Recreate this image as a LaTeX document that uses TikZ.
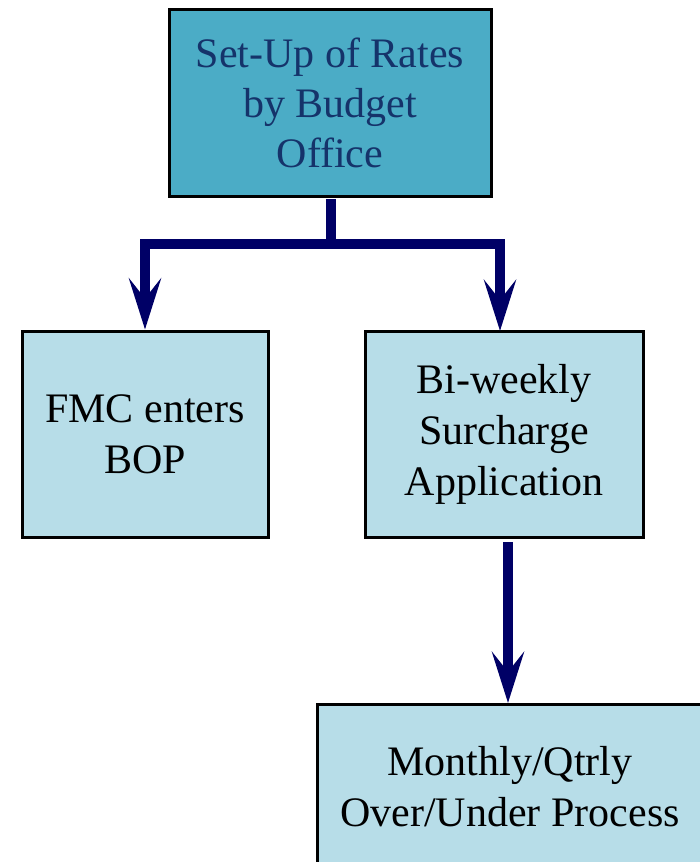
\documentclass[tikz,border=0pt]{standalone}
\usepackage{fontspec}
\setmainfont{Liberation Serif}
\usetikzlibrary{arrows.meta}
\definecolor{topfill}{HTML}{4BACC6}
\definecolor{boxfill}{HTML}{B7DDE8}
\definecolor{toptext}{HTML}{15336A}
\definecolor{arrowcol}{HTML}{000066}
\tikzset{
  box/.style={draw=black, line width=3pt, fill=boxfill, inner sep=0pt, align=center,
    font=\fontsize{42}{51}\selectfont, text=black},
  topbox/.style={box, fill=topfill, text=toptext, font=\fontsize{42}{50}\selectfont},
  conn/.style={draw=arrowcol, line width=10pt, line join=miter},
  tip/.style={-{Stealth[length=51pt 0 0, width=32pt 0, inset=20pt 0]}}
}
\begin{document}
\begin{tikzpicture}[x=1pt,y=-1pt]
\useasboundingbox (0,0) rectangle (700,862);
\clip (0,0) rectangle (700,862);
\node[topbox, minimum width=322pt, minimum height=187pt] (top) at (330,102.5)
  {Set-Up of Rates\\by Budget\\Office};
\node[box, minimum width=246pt, minimum height=206pt] (fmc) at (145,434)
  {FMC enters\\BOP};
\node[box, minimum width=278pt, minimum height=206pt] (bi) at (504,434)
  {Bi-weekly\\Surcharge\\Application};
\node[box, minimum width=386pt, minimum height=166pt] (mon) at (510,787)
  {Monthly/Qtrly\\Over/Under Process};
\coordinate (j) at (331,244);
\coordinate (biin) at (500,331);
\coordinate (biout) at (508,542);
\coordinate (monin) at (508,703);
\draw[conn] (331,199) -- (j);
\draw[conn, tip] (j) -| (fmc.north);
\draw[conn, tip] (j) -| (biin);
\draw[conn, tip] (biout) -- (monin);
\end{tikzpicture}
\end{document}
